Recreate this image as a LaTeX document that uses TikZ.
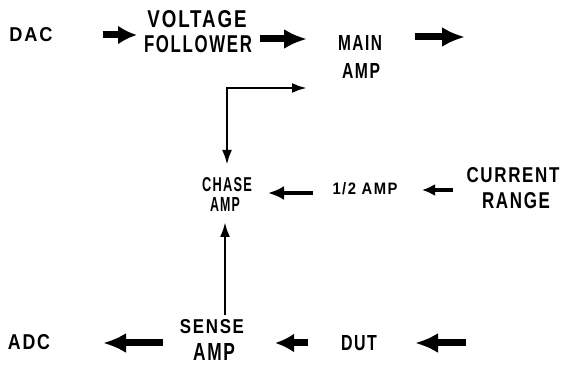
\documentclass[tikz,border=0pt]{standalone}
\usepackage{fontspec}
\usepackage{graphicx}
\usetikzlibrary{arrows.meta,calc}
\newfontfamily\lblfont{Liberation Sans}[LetterSpace=10]
\newcommand\lbl[3]{\resizebox{#1pt}{#2pt}{\lblfont\bfseries #3}}
\begin{document}
\begin{tikzpicture}[x=1pt,y=-1pt,
  txt/.style={inner sep=0pt,outer sep=0pt},
  bigarrow/.style={line width=7pt,-{Latex[length=23pt,width=20pt]}},
  shortarrow/.style={line width=7pt,-{Latex[length=19pt,width=19pt]}},
  medarrow/.style={line width=4.5pt,-{Latex[length=16pt,width=14pt]}},
  smallarrow/.style={line width=4.5pt,-{Latex[length=13pt,width=12pt]}},
  thinarrow/.style={line width=2.6pt,-{Latex[length=15pt,width=10pt]}},
  thinboth/.style={line width=2.6pt,{Latex[length=15pt,width=10pt]}-{Latex[length=15pt,width=10pt]}}]
\useasboundingbox[fill=white] (0,0) rectangle (565,371);
% text nodes
\node[txt] (dac)    at (31,35)  {\lbl{43}{14}{DAC}};
\node[txt] (vol)    at (197,19) {\lbl{99}{17}{VOLTAGE}};
\node[txt] (fol)    at (198,44) {\lbl{108}{17}{FOLLOWER}};
\node[txt] (main1)  at (360,43) {\lbl{44}{15}{MAIN}};
\node[txt] (main2)  at (361,71) {\lbl{38}{15}{AMP}};
\node[txt] (chase1) at (227,185) {\lbl{50}{14}{CHASE}};
\node[txt] (chase2) at (225,205) {\lbl{30}{14}{AMP}};
\node[txt] (half)   at (365,189) {\lbl{65}{12}{1/2 AMP}};
\node[txt] (cur1)   at (513,175) {\lbl{93}{15}{CURRENT}};
\node[txt] (cur2)   at (516,201) {\lbl{68}{16}{RANGE}};
\node[txt] (sense1) at (212,327) {\lbl{64}{14}{SENSE}};
\node[txt] (sense2) at (214,352) {\lbl{42}{17}{AMP}};
\node[txt] (adc)    at (29,342) {\lbl{42}{15}{ADC}};
\node[txt] (dut)    at (359,343) {\lbl{36}{15}{DUT}};
\coordinate (out) at (465,37);
\coordinate (in)  at (466,343);
% connectors
\draw[shortarrow] ($(dac.east)+(50,0)$) -- ($(fol.west)+(-7,-9)$);
\draw[bigarrow] ($(fol.east)+(8,-5)$) -- ($(main1.west)+(-31,-4)$);
\draw[bigarrow] ($(main1.east)+(33,-6)$) -- (out);
\draw[thinboth] ($(main2.west)+(-35,17)$) -| ($(chase1.north)+(0,-13)$);
\draw[medarrow] ($(half.west)+(-19.5,4)$) -- ($(chase1.east)+(16,8)$);
\draw[smallarrow] ($(cur1.west)+(-13.5,15)$) -- ($(half.east)+(24.5,1)$);
\draw[thinarrow] ($(sense1.north)+(13,-5)$) -- ($(chase2.south)+(0,10)$);
\draw[bigarrow] ($(sense1.west)+(-17,16)$) -- ($(adc.east)+(53,1)$);
\draw[shortarrow] ($(dut.west)+(-33,0)$) -- ($(sense2.east)+(40,-9)$);
\draw[bigarrow] (in) -- ($(dut.east)+(38,0)$);
\end{tikzpicture}
\end{document}
